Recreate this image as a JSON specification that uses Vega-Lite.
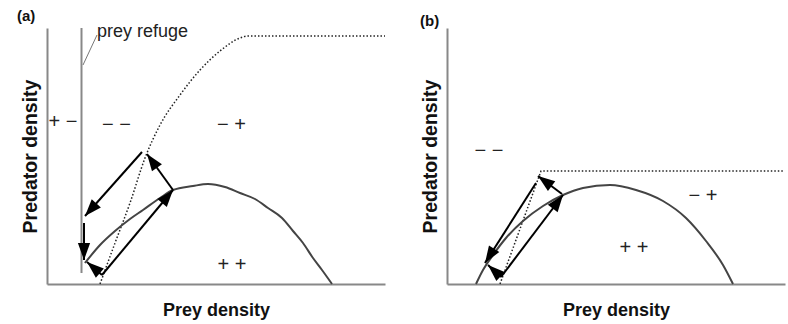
{
  "$schema": "https://vega.github.io/schema/vega-lite/v6.json",
  "padding": {"left": 17, "top": 9, "right": 6, "bottom": 2},
  "background": "white",
  "config": {
    "view": {"stroke": null},
    "font": "Liberation Sans",
    "axis": {"domainColor": "#888888", "domainWidth": 2, "ticks": false, "labels": false, "grid": false, "titleFont": "Liberation Sans", "titleFontWeight": "bold", "titleFontSize": 18, "titleColor": "#111111"},
    "axisX": {"titlePadding": 17},
    "axisY": {"titlePadding": 7, "titleFontSize": 19.5},
    "title": {"fontSize": 15, "fontWeight": "bold", "anchor": "start", "offset": -1, "color": "#111111", "frame": "group"},
    "concat": {"spacing": 32}
  },
  "datasets": {
    "curves": [
      {"panel": "a", "series": "hump", "x": 38, "y": 21},
      {"panel": "a", "series": "hump", "x": 53, "y": 39},
      {"panel": "a", "series": "hump", "x": 68, "y": 53},
      {"panel": "a", "series": "hump", "x": 83, "y": 65},
      {"panel": "a", "series": "hump", "x": 96, "y": 74},
      {"panel": "a", "series": "hump", "x": 113, "y": 86},
      {"panel": "a", "series": "hump", "x": 126, "y": 94},
      {"panel": "a", "series": "hump", "x": 146, "y": 98},
      {"panel": "a", "series": "hump", "x": 161, "y": 100},
      {"panel": "a", "series": "hump", "x": 178, "y": 97},
      {"panel": "a", "series": "hump", "x": 193, "y": 91},
      {"panel": "a", "series": "hump", "x": 208, "y": 85},
      {"panel": "a", "series": "hump", "x": 221, "y": 76},
      {"panel": "a", "series": "hump", "x": 235, "y": 66},
      {"panel": "a", "series": "hump", "x": 246, "y": 53},
      {"panel": "a", "series": "hump", "x": 256, "y": 41},
      {"panel": "a", "series": "hump", "x": 266, "y": 26},
      {"panel": "a", "series": "hump", "x": 275, "y": 14},
      {"panel": "a", "series": "hump", "x": 285, "y": 0},
      {"panel": "a", "series": "iso", "x": 53, "y": 0},
      {"panel": "a", "series": "iso", "x": 68, "y": 41},
      {"panel": "a", "series": "iso", "x": 83, "y": 81},
      {"panel": "a", "series": "iso", "x": 98, "y": 126},
      {"panel": "a", "series": "iso", "x": 113, "y": 159},
      {"panel": "a", "series": "iso", "x": 133, "y": 189},
      {"panel": "a", "series": "iso", "x": 153, "y": 214},
      {"panel": "a", "series": "iso", "x": 173, "y": 233},
      {"panel": "a", "series": "iso", "x": 193, "y": 246},
      {"panel": "a", "series": "iso", "x": 201, "y": 248},
      {"panel": "a", "series": "iso", "x": 338, "y": 248},
      {"panel": "b", "series": "hump", "x": 29, "y": 0},
      {"panel": "b", "series": "hump", "x": 36, "y": 14},
      {"panel": "b", "series": "hump", "x": 46, "y": 29},
      {"panel": "b", "series": "hump", "x": 59, "y": 46},
      {"panel": "b", "series": "hump", "x": 76, "y": 63},
      {"panel": "b", "series": "hump", "x": 96, "y": 78},
      {"panel": "b", "series": "hump", "x": 116, "y": 89},
      {"panel": "b", "series": "hump", "x": 136, "y": 96},
      {"panel": "b", "series": "hump", "x": 163, "y": 99},
      {"panel": "b", "series": "hump", "x": 189, "y": 94},
      {"panel": "b", "series": "hump", "x": 216, "y": 83},
      {"panel": "b", "series": "hump", "x": 239, "y": 66},
      {"panel": "b", "series": "hump", "x": 259, "y": 43},
      {"panel": "b", "series": "hump", "x": 276, "y": 19},
      {"panel": "b", "series": "hump", "x": 286, "y": 0},
      {"panel": "b", "series": "iso", "x": 53, "y": 0},
      {"panel": "b", "series": "iso", "x": 94, "y": 113},
      {"panel": "b", "series": "iso", "x": 336, "y": 113}
    ],
    "segs": [
      {"panel": "a", "kind": "refuge", "x": 34.5, "y": 256, "x2": 34.5, "y2": 11},
      {"panel": "a", "kind": "leader", "x": 50, "y": 249, "x2": 36, "y2": 219},
      {"panel": "a", "kind": "arrow", "x": 126, "y": 94, "x2": 100, "y2": 130},
      {"panel": "a", "kind": "arrow", "x": 95, "y": 132, "x2": 38, "y2": 68},
      {"panel": "a", "kind": "arrow", "x": 37, "y": 61, "x2": 37, "y2": 24},
      {"panel": "a", "kind": "arrow", "x": 55, "y": 9, "x2": 40, "y2": 22},
      {"panel": "a", "kind": "arrow", "x": 55, "y": 9, "x2": 126, "y2": 94},
      {"panel": "b", "kind": "arrow", "x": 115, "y": 90, "x2": 91, "y2": 108},
      {"panel": "b", "kind": "arrow", "x": 89, "y": 101, "x2": 38, "y2": 21},
      {"panel": "b", "kind": "arrow", "x": 54, "y": 7, "x2": 41, "y2": 19},
      {"panel": "b", "kind": "arrow", "x": 54, "y": 7, "x2": 116, "y2": 89}
    ],
    "labels": [
      {"panel": "a", "kind": "sign", "text": "+ −", "x": 16, "y": 162},
      {"panel": "a", "kind": "sign", "text": "− −", "x": 69.5, "y": 159},
      {"panel": "a", "kind": "sign", "text": "− +", "x": 184.5, "y": 159},
      {"panel": "a", "kind": "sign", "text": "+ +", "x": 185, "y": 19},
      {"panel": "a", "kind": "note", "text": "prey refuge", "x": 50, "y": 247},
      {"panel": "b", "kind": "sign", "text": "− −", "x": 42, "y": 133},
      {"panel": "b", "kind": "sign", "text": "− +", "x": 256, "y": 88},
      {"panel": "b", "kind": "sign", "text": "+ +", "x": 187, "y": 36}
    ]
  },
  "hconcat": [
    {
      "width": 338,
      "height": 256,
      "title": {"text": "(a)", "dx": -30},
      "layer": [
        {
          "data": {"name": "curves"},
          "transform": [{"filter": "datum.panel == 'a' && datum.series == 'iso'"}],
          "mark": {"type": "line", "strokeDash": [1.5, 2], "strokeWidth": 1.5, "color": "#222222", "interpolate": "monotone"},
          "encoding": {
            "x": {"field": "x", "type": "quantitative", "scale": {"domain": [0, 338], "nice": false, "zero": false}, "axis": {"title": "Prey density"}},
            "y": {"field": "y", "type": "quantitative", "scale": {"domain": [0, 256], "nice": false, "zero": false}, "axis": {"title": "Predator density"}}
          }
        },
        {
          "data": {"name": "curves"},
          "transform": [{"filter": "datum.panel == 'a' && datum.series == 'hump'"}],
          "mark": {"type": "line", "strokeWidth": 2, "color": "#444444", "interpolate": "monotone"},
          "encoding": {
            "x": {"field": "x", "type": "quantitative"},
            "y": {"field": "y", "type": "quantitative"}
          }
        },
        {
          "data": {"name": "segs"},
          "transform": [{"filter": "datum.panel == 'a' && datum.kind == 'refuge'"}],
          "mark": {"type": "rule", "strokeWidth": 2, "color": "#888888"},
          "encoding": {
            "x": {"field": "x", "type": "quantitative"},
            "y": {"field": "y", "type": "quantitative"},
            "x2": {"field": "x2"},
            "y2": {"field": "y2"}
          }
        },
        {
          "data": {"name": "segs"},
          "transform": [{"filter": "datum.panel == 'a' && datum.kind == 'leader'"}],
          "mark": {"type": "rule", "strokeWidth": 1, "color": "#777777"},
          "encoding": {
            "x": {"field": "x", "type": "quantitative"},
            "y": {"field": "y", "type": "quantitative"},
            "x2": {"field": "x2"},
            "y2": {"field": "y2"}
          }
        },
        {
          "data": {"name": "segs"},
          "transform": [{"filter": "datum.panel == 'a' && datum.kind == 'arrow'"}],
          "mark": {"type": "rule", "strokeWidth": 2, "color": "#000000", "strokeCap": "butt"},
          "encoding": {
            "x": {"field": "x", "type": "quantitative"},
            "y": {"field": "y", "type": "quantitative"},
            "x2": {"field": "x2"},
            "y2": {"field": "y2"}
          }
        },
        {
          "data": {"name": "segs"},
          "transform": [
            {"filter": "datum.panel == 'a' && datum.kind == 'arrow'"},
            {"calculate": "atan2(datum.y - datum.y2, datum.x2 - datum.x) * 180 / PI", "as": "ang"}
          ],
          "mark": {"type": "point", "shape": "M0,0L-2,-0.72L-2,0.72Z", "filled": true, "size": 289, "color": "#000000", "opacity": 1, "strokeWidth": 0},
          "encoding": {
            "x": {"field": "x2", "type": "quantitative"},
            "y": {"field": "y2", "type": "quantitative"},
            "angle": {"field": "ang", "type": "quantitative", "scale": null}
          }
        },
        {
          "data": {"name": "labels"},
          "transform": [{"filter": "datum.panel == 'a' && datum.kind == 'sign'"}],
          "mark": {"type": "text", "fontSize": 20, "color": "#222222", "align": "center", "baseline": "middle"},
          "encoding": {
            "x": {"field": "x", "type": "quantitative"},
            "y": {"field": "y", "type": "quantitative"},
            "text": {"field": "text"}
          }
        },
        {
          "data": {"name": "labels"},
          "transform": [{"filter": "datum.panel == 'a' && datum.kind == 'note'"}],
          "mark": {"type": "text", "fontSize": 18, "color": "#222222", "align": "left", "baseline": "alphabetic"},
          "encoding": {
            "x": {"field": "x", "type": "quantitative"},
            "y": {"field": "y", "type": "quantitative"},
            "text": {"field": "text"}
          }
        }
      ]
    },
    {
      "width": 338,
      "height": 256,
      "title": {"text": "(b)", "dx": -27},
      "layer": [
        {
          "data": {"name": "curves"},
          "transform": [{"filter": "datum.panel == 'b' && datum.series == 'iso'"}],
          "mark": {"type": "line", "strokeDash": [1.5, 2], "strokeWidth": 1.5, "color": "#222222"},
          "encoding": {
            "x": {"field": "x", "type": "quantitative", "scale": {"domain": [0, 338], "nice": false, "zero": false}, "axis": {"title": "Prey density"}},
            "y": {"field": "y", "type": "quantitative", "scale": {"domain": [0, 256], "nice": false, "zero": false}, "axis": {"title": "Predator density"}}
          }
        },
        {
          "data": {"name": "curves"},
          "transform": [{"filter": "datum.panel == 'b' && datum.series == 'hump'"}],
          "mark": {"type": "line", "strokeWidth": 2, "color": "#444444", "interpolate": "monotone"},
          "encoding": {
            "x": {"field": "x", "type": "quantitative"},
            "y": {"field": "y", "type": "quantitative"}
          }
        },
        {
          "data": {"name": "segs"},
          "transform": [{"filter": "datum.panel == 'b' && datum.kind == 'arrow'"}],
          "mark": {"type": "rule", "strokeWidth": 2, "color": "#000000", "strokeCap": "butt"},
          "encoding": {
            "x": {"field": "x", "type": "quantitative"},
            "y": {"field": "y", "type": "quantitative"},
            "x2": {"field": "x2"},
            "y2": {"field": "y2"}
          }
        },
        {
          "data": {"name": "segs"},
          "transform": [
            {"filter": "datum.panel == 'b' && datum.kind == 'arrow'"},
            {"calculate": "atan2(datum.y - datum.y2, datum.x2 - datum.x) * 180 / PI", "as": "ang"}
          ],
          "mark": {"type": "point", "shape": "M0,0L-2,-0.72L-2,0.72Z", "filled": true, "size": 289, "color": "#000000", "opacity": 1, "strokeWidth": 0},
          "encoding": {
            "x": {"field": "x2", "type": "quantitative"},
            "y": {"field": "y2", "type": "quantitative"},
            "angle": {"field": "ang", "type": "quantitative", "scale": null}
          }
        },
        {
          "data": {"name": "labels"},
          "transform": [{"filter": "datum.panel == 'b' && datum.kind == 'sign'"}],
          "mark": {"type": "text", "fontSize": 20, "color": "#222222", "align": "center", "baseline": "middle"},
          "encoding": {
            "x": {"field": "x", "type": "quantitative"},
            "y": {"field": "y", "type": "quantitative"},
            "text": {"field": "text"}
          }
        }
      ]
    }
  ]
}
